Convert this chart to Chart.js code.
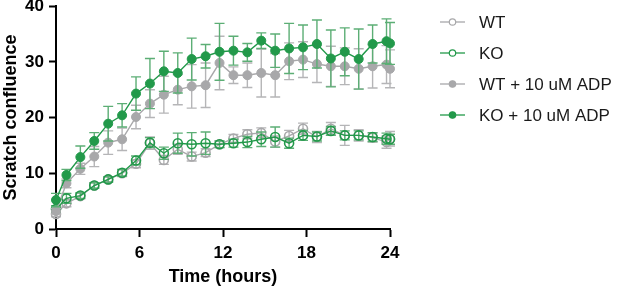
<!DOCTYPE html>
<html>
<head>
<meta charset="utf-8">
<script src="https://cdn.jsdelivr.net/npm/chart.js@4"></script>
<style>
  html, body { margin: 0; padding: 0; background: #fff; }
  #wrap { width: 617px; height: 288px; }
</style>
</head>
<body>
<div id="wrap"><canvas id="scratchChart"></canvas></div>
<script>
// time points (hours)
const hours = [0, 0.75, 1.75, 2.75, 3.75, 4.75, 5.75, 6.75, 7.75, 8.75, 9.75, 10.75, 11.75,
  12.75, 13.75, 14.75, 15.75, 16.75, 17.75, 18.75, 19.75, 20.75, 21.75, 22.75, 23.75, 24];

const labels = ["WT", "KO", "WT + 10 uM ADP", "KO + 10 uM ADP"];

// means
const wt = [2.7, 4.6, 5.9, 7.8, 8.9, 10.0, 11.7, 15.4, 12.4, 14.3, 13.0, 13.7, 15.2,
  16.25, 17.0, 17.25, 15.7, 16.7, 18.0, 16.5, 18.0, 16.8, 16.8, 16.4, 15.6, 16.2];
const ko = [3.6, 5.5, 6.0, 7.8, 8.9, 10.1, 12.3, 15.5, 13.6, 15.4, 15.2, 15.4, 15.2,
  15.4, 15.6, 16.1, 16.5, 15.4, 16.8, 16.6, 17.6, 16.8, 16.8, 16.5, 16.2, 16.1];
const wtAdp = [3.2, 8.2, 10.8, 13.0, 15.5, 16.1, 20.1, 22.5, 24.1, 25.0, 25.6, 25.8, 29.8,
  27.6, 27.6, 28.0, 27.6, 30.1, 30.4, 29.6, 29.2, 29.2, 28.75, 29.2, 29.5, 28.75];
const koAdp = [5.2, 9.7, 12.9, 15.8, 18.9, 20.4, 24.3, 26.1, 28.3, 28.0, 30.5, 31.0, 31.8,
  32.0, 31.7, 33.8, 32.0, 32.4, 32.6, 33.2, 30.6, 31.8, 30.5, 33.2, 33.7, 33.3];

// error bars (+/-)
const wtErr = [0.5, 0.6, 0.5, 0.5, 0.4, 0.6, 0.7, 1.1, 0.8, 0.9, 0.8, 0.7, 0.6,
  0.7, 0.8, 0.9, 1.0, 1.0, 1.0, 1.0, 1.1, 1.8, 1.0, 0.8, 1.1, 1.3];
const koErr = [0.6, 0.9, 0.5, 0.5, 0.5, 0.6, 0.8, 0.9, 1.1, 1.8, 2.1, 2.0, 0.6,
  0.7, 1.0, 1.3, 1.8, 0.9, 0.9, 0.8, 0.8, 0.8, 0.8, 0.8, 1.0, 0.9];
const wtAdpErr = [0.5, 0.8, 1.0, 1.8, 2.1, 2.0, 2.1, 2.5, 3.3, 2.7, 3.9, 4.0, 4.8,
  1.5, 2.2, 4.3, 3.9, 3.3, 3.2, 3.3, 3.6, 3.3, 3.6, 3.9, 3.4, 3.4];
const koAdpErr = [1.2, 1.0, 2.0, 1.5, 3.1, 2.1, 3.0, 4.5, 3.6, 3.6, 3.75, 2.1, 5.1,
  2.6, 1.6, 1.4, 3.0, 4.5, 4.0, 4.3, 5.1, 4.3, 5.4, 3.4, 4.0, 3.75];

const xTicks = [0, 6, 12, 18, 24];
const yTicks = [0, 10, 20, 30, 40];

const GREEN = "#22994a";
const GREEN_ERR = "#5cae75";
const GREY = "#a8a8aa";
const GREY_ERR = "#b5b5b7";
const FONT = "'Liberation Sans', Arial, Helvetica, sans-serif";

const toPoints = vals => hours.map((h, i) => ({ x: h, y: vals[i] }));

function series(label, vals, errs, color, errColor, filled, order) {
  return {
    label: label,
    data: toPoints(vals),
    errors: errs,
    errorColor: errColor,
    borderColor: color,
    borderWidth: 1.4,
    pointRadius: 4.5,
    pointBorderWidth: filled ? 1 : 1.6,
    pointBackgroundColor: filled ? color : "rgba(0,0,0,0)",
    pointBorderColor: color,
    pointHoverRadius: 4.5,
    tension: 0,
    clip: false,
    order: order,
  };
}

// draws each dataset's error bars just before the dataset itself
const errorBars = {
  id: "errorBars",
  beforeDatasetDraw(chart, args) {
    const ds = chart.data.datasets[args.index];
    if (!ds.errors) return;
    const { ctx, scales: { x, y } } = chart;
    ctx.save();
    ctx.strokeStyle = ds.errorColor;
    ctx.lineWidth = 1.4;
    ds.data.forEach((p, j) => {
      const e = ds.errors[j];
      const px = x.getPixelForValue(p.x);
      const top = y.getPixelForValue(p.y + e);
      const bot = y.getPixelForValue(p.y - e);
      ctx.beginPath();
      ctx.moveTo(px, top); ctx.lineTo(px, bot);
      ctx.moveTo(px - 5, top); ctx.lineTo(px + 5, top);
      ctx.moveTo(px - 5, bot); ctx.lineTo(px + 5, bot);
      ctx.stroke();
    });
    ctx.restore();
  }
};

// legend to the right of the plot, line + marker sample like the original
const sideLegend = {
  id: "sideLegend",
  afterDraw(chart, args, opts) {
    const { ctx } = chart;
    ctx.save();
    ctx.font = opts.font;
    ctx.textBaseline = "middle";
    chart.data.datasets.forEach((ds, i) => {
      const cy = opts.top + i * opts.step;
      ctx.strokeStyle = ds.borderColor;
      ctx.lineWidth = 1.3;
      ctx.beginPath();
      ctx.moveTo(opts.x, cy);
      ctx.lineTo(opts.x + opts.lineLen, cy);
      ctx.stroke();
      ctx.beginPath();
      ctx.arc(opts.x + opts.lineLen / 2, cy, 3.2, 0, Math.PI * 2);
      ctx.fillStyle = "#fff";
      ctx.fill();
      ctx.fillStyle = ds.pointBackgroundColor;
      ctx.fill();
      ctx.lineWidth = 1.2;
      ctx.strokeStyle = ds.pointBorderColor;
      ctx.stroke();
      ctx.fillStyle = "#1a1a1a";
      ctx.fillText(ds.label, opts.textX, cy + 1);
    });
    ctx.restore();
  }
};

new Chart(document.getElementById("scratchChart"), {
  type: "line",
  data: {
    datasets: [
      series(labels[0], wt, wtErr, GREY, GREY_ERR, false, 4),
      series(labels[1], ko, koErr, GREEN, GREEN_ERR, false, 3),
      series(labels[2], wtAdp, wtAdpErr, GREY, GREY_ERR, true, 2),
      series(labels[3], koAdp, koAdpErr, GREEN, GREEN_ERR, true, 1),
    ],
  },
  options: {
    responsive: true,
    maintainAspectRatio: false,
    animation: false,
    events: [],
    layout: { padding: { top: 5, right: 227, bottom: 0, left: 0 } },
    plugins: {
      legend: { display: false },
      tooltip: { enabled: false },
      sideLegend: {
        x: 440, lineLen: 25, textX: 479, top: 22, step: 31,
        font: "17px " + FONT,
      },
    },
    scales: {
      x: {
        type: "linear",
        min: 0,
        max: 24,
        afterBuildTicks: s => { s.ticks = xTicks.map(v => ({ value: v })); },
        afterFit: s => { s.height = 59; s.paddingLeft = 0; s.paddingRight = 0; },
        border: { display: true, color: "#000", width: 2 },
        grid: { drawOnChartArea: false, drawTicks: true, tickLength: 8, tickWidth: 2, tickColor: "#000" },
        ticks: { color: "#000", padding: 6, font: { family: FONT, size: 17, weight: "bold" } },
        title: {
          display: true, text: "Time (hours)", color: "#000",
          padding: { top: 0, bottom: 0 },
          font: { family: FONT, size: 18, weight: "bold" },
        },
      },
      y: {
        min: 0,
        max: 40,
        afterBuildTicks: s => { s.ticks = yTicks.map(v => ({ value: v })); },
        afterFit: s => { s.width = 56; s.paddingTop = 0; s.paddingBottom = 0; },
        border: { display: true, color: "#000", width: 2 },
        grid: { drawOnChartArea: false, drawTicks: true, tickLength: 7, tickWidth: 2, tickColor: "#000" },
        ticks: { color: "#000", padding: 5, font: { family: FONT, size: 17, weight: "bold" } },
        title: {
          display: true, text: "Scratch confluence", color: "#000",
          padding: { top: 0, bottom: 0 },
          font: { family: FONT, size: 18, weight: "bold" },
        },
      },
    },
  },
  plugins: [errorBars, sideLegend],
});
</script>
</body>
</html>
